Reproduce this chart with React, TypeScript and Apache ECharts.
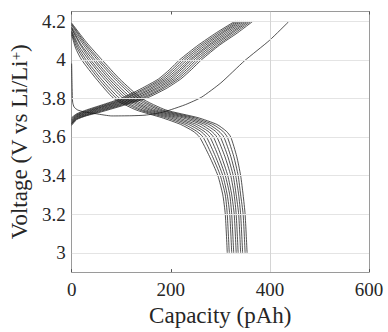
import React, { useEffect, useRef } from "react";
import * as echarts from "echarts";

const xTicks = [0, 200, 400, 600];
const yTicks = [3, 3.2, 3.4, 3.6, 3.8, 4, 4.2];
const xGridValues = [400];

// Discharge curves (capacity pAh, voltage V), smallest to largest capacity
const discharge0 = [[0,4.13],[8,4.06],[20,4.0],[50,3.9],[85,3.8],[130,3.74],[182,3.70],[220,3.665],[245,3.63],[258,3.60],[278,3.50],[295,3.40],[305,3.30],[310,3.20],[314,3.0]];
const discharge1 = [[0,4.14],[10,4.065],[25,4.0],[55,3.9],[91,3.8],[137,3.74],[190,3.70],[228,3.665],[252,3.63],[265,3.60],[284,3.50],[300,3.40],[310,3.30],[314,3.20],[318,3.0]];
const discharge2 = [[0,4.145],[13,4.065],[29,4.0],[60,3.9],[97,3.8],[143,3.74],[198,3.70],[236,3.665],[260,3.63],[272,3.60],[290,3.50],[305,3.40],[314,3.30],[319,3.20],[323,3.0]];
const discharge3 = [[0,4.15],[15,4.07],[34,4.0],[66,3.9],[104,3.8],[150,3.74],[206,3.70],[244,3.665],[267,3.63],[279,3.60],[296,3.50],[310,3.40],[319,3.30],[323,3.20],[327,3.0]];
const discharge4 = [[0,4.16],[18,4.075],[38,4.0],[71,3.9],[110,3.8],[157,3.74],[214,3.70],[252,3.665],[275,3.63],[286,3.60],[302,3.50],[315,3.40],[323,3.30],[328,3.20],[332,3.0]];
const discharge5 = [[0,4.165],[20,4.075],[43,4.0],[76,3.9],[116,3.8],[163,3.74],[223,3.70],[261,3.665],[282,3.63],[293,3.60],[309,3.50],[321,3.40],[328,3.30],[332,3.20],[336,3.0]];
const discharge6 = [[0,4.17],[23,4.08],[47,4.0],[81,3.9],[122,3.8],[170,3.74],[231,3.70],[269,3.665],[290,3.63],[300,3.60],[315,3.50],[326,3.40],[332,3.30],[337,3.20],[341,3.0]];
const discharge7 = [[0,4.18],[25,4.085],[52,4.0],[87,3.9],[129,3.8],[177,3.74],[239,3.70],[277,3.665],[297,3.63],[307,3.60],[321,3.50],[331,3.40],[337,3.30],[341,3.20],[345,3.0]];
const discharge8 = [[0,4.185],[28,4.085],[56,4.0],[92,3.9],[135,3.8],[183,3.74],[247,3.70],[285,3.665],[305,3.63],[314,3.60],[327,3.50],[336,3.40],[341,3.30],[346,3.20],[350,3.0]];
const discharge9 = [[0,4.19],[30,4.09],[61,4.0],[97,3.9],[141,3.8],[190,3.74],[255,3.70],[293,3.665],[312,3.63],[321,3.60],[333,3.50],[341,3.40],[346,3.30],[350,3.20],[354,3.0]];

// Charge curves, smallest to largest capacity
const charge0 = [[0,3.70],[10,3.72],[30,3.74],[60,3.765],[100,3.80],[140,3.85],[175,3.90],[198,3.95],[218,4.0],[255,4.075],[292,4.14],[330,4.2]];
const charge1 = [[0,3.695],[10,3.716],[30,3.736],[60,3.761],[106,3.80],[146,3.85],[180,3.90],[203,3.95],[223,4.0],[260,4.075],[297,4.14],[334,4.2]];
const charge2 = [[0,3.69],[10,3.713],[30,3.732],[60,3.757],[111,3.80],[151,3.85],[185,3.90],[208,3.95],[228,4.0],[265,4.075],[302,4.14],[338,4.2]];
const charge3 = [[0,3.685],[10,3.71],[30,3.729],[60,3.754],[117,3.80],[157,3.85],[190,3.90],[213,3.95],[233,4.0],[270,4.075],[306,4.14],[342,4.2]];
const charge4 = [[0,3.68],[10,3.706],[30,3.725],[60,3.75],[122,3.80],[162,3.85],[195,3.90],[218,3.95],[238,4.0],[275,4.075],[311,4.14],[346,4.2]];
const charge5 = [[0,3.675],[10,3.703],[30,3.722],[60,3.746],[128,3.80],[168,3.85],[200,3.90],[222,3.95],[242,4.0],[279,4.075],[316,4.14],[350,4.2]];
const charge6 = [[0,3.67],[10,3.70],[30,3.718],[60,3.742],[133,3.80],[173,3.85],[205,3.90],[227,3.95],[247,4.0],[284,4.075],[321,4.14],[354,4.2]];
const charge7 = [[0,3.67],[10,3.696],[30,3.715],[60,3.738],[139,3.80],[179,3.85],[210,3.90],[232,3.95],[252,4.0],[289,4.075],[325,4.14],[358,4.2]];
const charge8 = [[0,3.665],[10,3.693],[30,3.712],[60,3.734],[144,3.80],[184,3.85],[215,3.90],[237,3.95],[257,4.0],[294,4.075],[330,4.14],[362,4.2]];
const charge9 = [[0,3.66],[10,3.69],[30,3.71],[60,3.73],[150,3.80],[190,3.85],[220,3.90],[242,3.95],[262,4.0],[298,4.075],[335,4.14],[366,4.2]];

// First (formation) charge
const firstCharge = [[0,3.98],[1,3.85],[2,3.78],[5,3.755],[12,3.74],[25,3.73],[50,3.72],[81,3.709],[120,3.71],[148,3.713],[180,3.726],[201,3.742],[230,3.768],[262,3.806],[301,3.88],[349,3.995],[399,4.1],[439,4.2]];

const curves = [
  discharge0, discharge1, discharge2, discharge3, discharge4,
  discharge5, discharge6, discharge7, discharge8, discharge9,
  charge0, charge1, charge2, charge3, charge4,
  charge5, charge6, charge7, charge8, charge9,
  firstCharge,
];

const FONT = "Liberation Serif, Times New Roman, serif";
const TEXT = "#262626";
const BOX = "#9a9a9a";

export default function App() {
  const ref = useRef<HTMLDivElement>(null);
  useEffect(() => {
    if (!ref.current) return;
    const chart = echarts.init(ref.current, undefined, { renderer: "svg" });
    const axisCommon = {
      axisLine: { show: true, onZero: false, lineStyle: { color: BOX, width: 1 } },
      axisTick: { show: true, inside: true, length: 3, lineStyle: { color: "#555", width: 1 } },
      splitLine: { show: false },
    };
    chart.setOption({
      animation: false,
      backgroundColor: "#ffffff",
      textStyle: { fontFamily: FONT },
      grid: { left: 69, right: 19, top: 11.5, bottom: 54.5, containLabel: false },
      xAxis: [
        {
          type: "value", min: 0, max: 600, interval: 200, position: "bottom",
          ...axisCommon,
          axisLabel: { fontFamily: FONT, fontSize: 19, color: TEXT, margin: 8 },
          name: "Capacity (pAh)", nameLocation: "middle", nameGap: 29,
          nameTextStyle: { fontFamily: FONT, fontSize: 23, color: TEXT },
        },
        {
          type: "value", min: 0, max: 600, interval: 200, position: "top",
          ...axisCommon,
          axisLabel: { show: false },
        },
      ],
      yAxis: [
        {
          type: "value", min: 2.9, max: 4.25, position: "left",
          ...axisCommon,
          axisTick: { ...axisCommon.axisTick, customValues: yTicks },
          axisLabel: {
            customValues: yTicks, fontFamily: FONT, fontSize: 19, color: TEXT, margin: 6,
            formatter: (v: number) => String(+Number(v).toFixed(1)),
          },
          name: "Voltage (V vs Li/Li{sup|+})", nameLocation: "middle", nameGap: 34,
          nameTextStyle: {
            fontFamily: FONT, fontSize: 23, color: TEXT,
            rich: { sup: { fontFamily: FONT, fontSize: 15, color: TEXT, verticalAlign: "top" } },
          },
        },
        {
          type: "value", min: 2.9, max: 4.25, position: "right",
          ...axisCommon,
          axisTick: { ...axisCommon.axisTick, customValues: yTicks },
          axisLabel: { show: false },
        },
      ],
      series: [
        {
          type: "line",
          data: [[0, 2.0]],
          showSymbol: false,
          silent: true,
          z: 1,
          lineStyle: { opacity: 0 },
          markLine: {
            silent: true,
            symbol: "none",
            label: { show: false },
            lineStyle: { color: "#e4e4e4", type: "solid", width: 1 },
            data: [
              ...yTicks.map((v) => ({ yAxis: v })),
              ...xGridValues.map((v) => ({ xAxis: v, lineStyle: { color: "#d4d4d4", type: "solid", width: 1 } })),
            ],
          },
        },
        ...curves.map((d) => ({
          type: "line",
          data: d,
          showSymbol: false,
          smooth: 0.2,
          silent: true,
          z: 2,
          lineStyle: { color: "#1a1a1a", width: 0.75 },
        })),
      ],
    });
    return () => chart.dispose();
  }, []);
  return (
    <div
      ref={ref}
      style={{ position: "absolute", left: 0, top: 0, width: 388, height: 332 }}
    />
  );
}
